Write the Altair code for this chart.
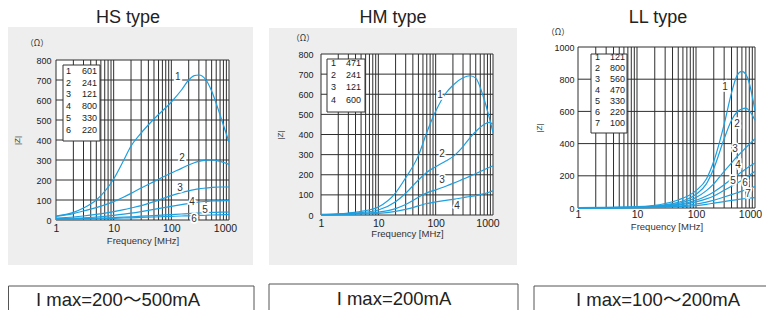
import altair as alt
import pandas as pd

FONT = "Liberation Sans, Noto Sans CJK JP"
CJK = "Noto Sans CJK JP"
BLUE = "#1e9fe0"
GRID = "#2e2e2e"
GRAY_BG = "#eeeeee"

TITLES = ["HS type", "HM type", "LL type"]
IMAX = ["I max=200～500mA", "I max=200mA", "I max=100～200mA"]

X_LABELS = [1, 10, 100, 1000]
X_GRID = [1, 2, 3, 4, 5, 6, 7, 8, 9, 10, 20, 30, 40, 50, 60, 70, 80, 90,
          100, 200, 300, 400, 500, 600, 700, 800, 900, 1000]

# ---------------- HS type ----------------
HS_F = [1, 2, 3, 5, 10, 15, 20, 30, 50, 100, 150, 200, 250, 300, 400, 500, 700, 1000]
HS_Z1 = [20, 38, 60, 100, 205, 300, 370, 435, 505, 590, 650, 700, 722, 725, 700, 645, 525, 390]
HS_Z2 = [18, 32, 45, 62, 92, 115, 133, 160, 192, 235, 258, 275, 286, 293, 299, 300, 293, 278]
HS_Z3 = [10, 15, 20, 28, 42, 52, 60, 72, 92, 122, 137, 146, 152, 156, 160, 163, 165, 165]
HS_Z4 = [6, 9, 11, 15, 23, 29, 34, 42, 53, 68, 77, 83, 87, 90, 93, 95, 96, 97]
HS_Z5 = [4, 6, 7, 9, 12, 14, 16, 19, 22, 27, 30, 32, 34, 35, 37, 38, 39, 40]
HS_Z6 = [3, 4, 5, 6, 8, 10, 11, 13, 15, 18, 20, 21, 22, 23, 24, 25, 26, 27]
HS_PARTS = ["601", "241", "121", "800", "330", "220"]
HS_LABEL_F = [130, 153, 141, 228, 384, 247]
HS_LABEL_Z = [715, 310, 160, 90, 50, 5]
HS_Y_GRID = [0, 100, 200, 300, 400, 500, 600, 700, 800]

# ---------------- HM type ----------------
HM_F = [1, 2, 3, 5, 10, 20, 30, 50, 70, 100, 150, 200, 300, 400, 500, 700, 850, 1000]
HM_Z1 = [3, 6, 10, 18, 40, 110, 185, 295, 410, 515, 605, 645, 682, 692, 680, 575, 490, 410]
HM_Z2 = [2, 4, 7, 12, 25, 66, 108, 174, 212, 240, 268, 290, 340, 385, 415, 450, 460, 452]
HM_Z3 = [1, 3, 5, 8, 14, 32, 52, 88, 110, 125, 143, 157, 178, 193, 205, 225, 236, 245]
HM_Z4 = [1, 2, 3, 5, 8, 18, 28, 45, 57, 65, 73, 78, 86, 92, 96, 106, 113, 120]
HM_PARTS = ["471", "241", "121", "600"]
HM_LABEL_F = [119, 129, 129, 236]
HM_LABEL_Z = [596, 303, 174, 45]
HM_Y_GRID = [0, 100, 200, 300, 400, 500, 600, 700, 800]

# ---------------- LL type ----------------
LL_F = [1, 3, 10, 30, 50, 100, 150, 200, 300, 400, 500, 600, 700, 800, 1000]
LL_Z1 = [2, 4, 8, 28, 50, 108, 180, 290, 520, 715, 825, 848, 830, 775, 605]
LL_Z2 = [1, 3, 6, 20, 35, 85, 150, 245, 430, 545, 598, 615, 620, 605, 545]
LL_Z3 = [1, 2, 5, 16, 28, 65, 108, 150, 228, 280, 320, 350, 375, 395, 430]
LL_Z4 = [1, 2, 4, 12, 22, 48, 75, 100, 145, 180, 205, 225, 243, 258, 280]
LL_Z5 = [0, 1, 3, 10, 18, 38, 57, 75, 110, 135, 155, 172, 188, 202, 228]
LL_Z6 = [0, 1, 2, 7, 12, 25, 37, 48, 68, 83, 95, 105, 114, 121, 133]
LL_Z7 = [0, 1, 2, 5, 8, 15, 23, 30, 40, 47, 52, 56, 59, 61, 64]
LL_PARTS = ["121", "800", "560", "470", "330", "220", "100"]
LL_LABEL_F = [312, 495, 458, 515, 424, 677, 761]
LL_LABEL_Z = [751, 522, 366, 267, 168, 155, 87]
LL_Y_GRID = [0, 200, 400, 600, 800, 1000]

ONE = pd.DataFrame({"k": [0]})
FRAME_H = 302


def rect(x1, x2, y1, y2, **kw):
    return alt.Chart(ONE).mark_rect(**kw).encode(
        x=alt.value(x1), x2=alt.value(x2), y=alt.value(y1), y2=alt.value(y2))


def label(x, y, t, font=FONT, **kw):
    return alt.Chart(ONE).mark_text(font=font, **kw).encode(
        x=alt.value(x), y=alt.value(y), text=alt.value(t))


def panel(idx, freqs, zs, parts, lab_f, lab_z, ymax, ygrid, g):
    FW = g["fw"]
    L, T, W, H = g["plot"]
    R, B = L + W, T + H
    xs = alt.Scale(type="log", domain=[1, 1000], nice=False, range=[L, R])
    ys = alt.Scale(domain=[0, ymax], nice=False, zero=True, range=[B, T])
    ax = alt.Axis(values=X_LABELS, format="d", grid=False, domain=False, ticks=False,
                  offset=-(FRAME_H - B), zindex=1,
                  labelFontSize=10.5, labelColor="#222", labelFont=FONT,
                  labelPadding=g["xlp"], labelFlush=False,
                  labelOffset={"condition": {"test": "datum.value == 1000",
                                             "value": g["last_off"]}, "value": 0},
                  title="Frequency [MHz]", titleFont=FONT, titleFontSize=9.5,
                  titleFontWeight="normal", titleColor="#333",
                  titleX=L + W / 2, titleY=g["fty"], titleBaseline="middle",
                  titleAlign="center")
    ay = alt.Axis(values=ygrid, format="d", grid=False, domain=False, ticks=False,
                  offset=-L, zindex=1,
                  labelFontSize=9, labelColor="#222", labelFont=FONT,
                  labelPadding=g["ylp"], labelFlush=False,
                  title="|Z|", titleFont=FONT, titleFontSize=8,
                  titleFontWeight="normal", titleColor="#333",
                  titleX=g["ztx"], titleY=T + H / 2, titleAngle=270,
                  titleBaseline="middle", titleAlign="center")

    rows = []
    for i, z in enumerate(zs):
        for f, v in zip(freqs, z):
            rows.append({"f": f, "z": v, "c": str(i + 1)})
    curves = pd.DataFrame(rows)
    labs = pd.DataFrame({"f": lab_f, "z": lab_z,
                         "t": [str(i + 1) for i in range(len(lab_f))]})

    X = alt.X("f:Q", scale=xs, axis=ax)
    Y = alt.Y("z:Q", scale=ys, axis=ay)

    # white frame filling the whole panel: fixes the panel's extent
    layers = [rect(0, FW, 0, FRAME_H, fill="white")]
    if g.get("gray"):
        gx, gy = g["gray"]
        layers.append(rect(gx[0], gx[1], gy[0], gy[1], fill=GRAY_BG))
    bx, by = g["box"]
    layers.append(rect(bx[0], bx[1], by[0], by[1], fill="white",
                       stroke="#555555", strokeWidth=1, clip=True))
    layers.append(label(g["imax"][0], g["imax"][1], IMAX[idx], fontSize=18.5,
                        color="#222", align="center", baseline="middle"))
    layers.append(label(g["title"][0], 0.5, TITLES[idx], fontSize=18,
                        color="#222", align="center", baseline="top"))
    layers.append(label(g["ohm"][0], g["ohm"][1], "（Ω）", font=CJK, fontSize=8.5,
                        color="#333", align="center", baseline="middle"))
    layers.append(rect(L, R, T, B, fill="white"))
    layers.append(alt.Chart(pd.DataFrame({"f": X_GRID})).mark_rule(
        color=GRID, strokeWidth=1).encode(x=X, y=alt.value(T), y2=alt.value(B)))
    layers.append(alt.Chart(pd.DataFrame({"z": ygrid})).mark_rule(
        color=GRID, strokeWidth=1).encode(y=Y, x=alt.value(L), x2=alt.value(R)))
    layers.append(alt.Chart(curves).mark_line(
        color=BLUE, strokeWidth=1.2, interpolate="monotone").encode(
        x=X, y=Y, detail="c:N"))
    layers.append(alt.Chart(labs).mark_text(
        font=FONT, fontSize=10, color="white", stroke="white", strokeWidth=3.5).encode(
        x=X, y=Y, text="t:N"))
    layers.append(alt.Chart(labs).mark_text(
        font=FONT, fontSize=10, color="#333").encode(x=X, y=Y, text="t:N"))
    lx, ly = g["leg"]
    layers.append(rect(lx[0], lx[1], ly[0], ly[1], fill="white",
                       stroke="#333333", strokeWidth=1))
    n = len(parts)
    lh = g["lh"]
    layers.append(label(g["numx"], g["row0"], [str(i + 1) for i in range(n)],
                        fontSize=9, color="#222", align="left", baseline="middle",
                        lineHeight=lh))
    layers.append(label(g["valx"], g["row0"], parts, fontSize=9, color="#222",
                        align="right", baseline="middle", lineHeight=lh))
    return alt.layer(*layers).properties(width=FW, height=FRAME_H)


# geometry: pixel offsets inside each panel's frame (page origin + 8px margin)
HS_G = dict(fw=253, plot=(48, 52, 173, 160), xlp=3, ylp=5, fty=20, ztx=-39,
            last_off=-4,
            gray=((0, 245), (19, 257)),
            box=((0.5, 246), (278, 340)), imax=(110, 292), title=(120,),
            ohm=(29, 35), leg=((55, 92), (57, 133)), lh=11.7, row0=63,
            numx=58, valx=89)
HM_G = dict(fw=265, plot=(60, 46, 172, 161), xlp=3, ylp=8, fty=18, ztx=-41,
            last_off=-5.5,
            gray=((8, 256), (20, 257)),
            box=((8, 257), (276, 340)), imax=(133, 291), title=(132,),
            ohm=(42, 30), leg=((66, 104), (51, 104)), lh=12.2, row0=55,
            numx=70, valx=100)
LL_G = dict(fw=240, plot=(52, 39, 177, 161), xlp=1, ylp=4, fty=18, ztx=-39,
            last_off=-5,
            box=((8, 280), (278, 340)), imax=(132, 292), title=(132,),
            ohm=(32, 24), leg=((65, 101), (46, 125)), lh=11, row0=49,
            numx=69, valx=99)

hs = panel(0, HS_F, [HS_Z1, HS_Z2, HS_Z3, HS_Z4, HS_Z5, HS_Z6], HS_PARTS,
           HS_LABEL_F, HS_LABEL_Z, 800, HS_Y_GRID, HS_G)
hm = panel(1, HM_F, [HM_Z1, HM_Z2, HM_Z3, HM_Z4], HM_PARTS,
           HM_LABEL_F, HM_LABEL_Z, 800, HM_Y_GRID, HM_G)
ll = panel(2, LL_F, [LL_Z1, LL_Z2, LL_Z3, LL_Z4, LL_Z5, LL_Z6, LL_Z7], LL_PARTS,
           LL_LABEL_F, LL_LABEL_Z, 1000, LL_Y_GRID, LL_G)

chart = alt.hconcat(hs, hm, ll, spacing=0, bounds="flush").properties(
    padding=0, background="white"
).configure_view(stroke=None)

chart.save("out.html", embed_options={"renderer": "svg", "actions": False})
